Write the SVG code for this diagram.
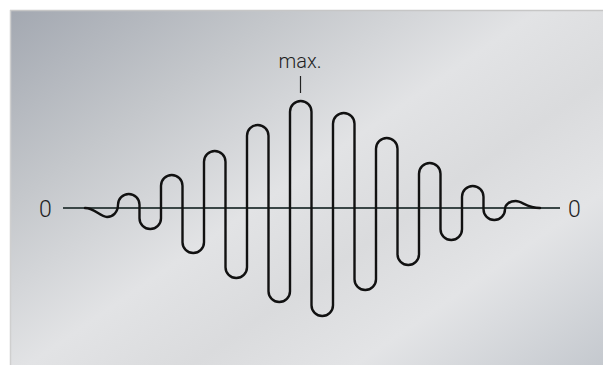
<svg xmlns="http://www.w3.org/2000/svg" width="603" height="365" viewBox="0 0 603 365">
  <defs>
    <linearGradient id="bg" gradientUnits="userSpaceOnUse" x1="10" y1="10" x2="420" y2="600">
      <stop offset="0" stop-color="#a3a8b1"/>
      <stop offset="0.22" stop-color="#c4c7cb"/>
      <stop offset="0.42" stop-color="#e2e3e5"/>
      <stop offset="0.55" stop-color="#dadbdd"/>
      <stop offset="0.68" stop-color="#e3e4e6"/>
      <stop offset="1" stop-color="#b2b8c0"/>
    </linearGradient>
    <style>
      .lbl { font-family: Roboto, "Liberation Sans", Arial, sans-serif; font-weight: 300; font-size: 19px; fill: #1e1e1e; }
      .zero { font-size: 23px; }
      .wave { fill: none; stroke: #111; stroke-width: 2.4; stroke-linejoin: round; stroke-linecap: round; }
      .axis { stroke: #3a4646; stroke-width: 2; }
      .tick { stroke: #222; stroke-width: 1.2; }
    </style>
  </defs>
  <rect x="0" y="0" width="603" height="365" fill="#ffffff"/>
  <g id="panel">
    <rect x="10" y="10" width="593" height="355" fill="url(#bg)"/>
    <line x1="10" y1="10.5" x2="603" y2="10.5" stroke="#c6c6c6" stroke-width="1.5"/>
    <line x1="10.5" y1="10" x2="10.5" y2="365" stroke="#cfcfcf" stroke-width="1.5"/>
  </g>
  <g id="axis">
    <line class="axis" x1="63" y1="208" x2="560" y2="208"/>
    <text class="lbl zero" x="45.5" y="216.5" text-anchor="middle">0</text>
    <text class="lbl zero" x="574.5" y="216.5" text-anchor="middle">0</text>
  </g>
  <g id="wave">
    <path class="wave" d="M 85 208 C 95 208 100 217 107 217 C 113 217 118 212 118 204.75 A 10.75 10.75 0 0 1 139.5 204.75 L 139.5 218.25 A 10.75 10.75 0 0 0 161 218.25 L 161 185.75 A 10.75 10.75 0 0 1 182.5 185.75 L 182.5 242.25 A 10.75 10.75 0 0 0 204 242.25 L 204 161.75 A 10.75 10.75 0 0 1 225.5 161.75 L 225.5 267.25 A 10.75 10.75 0 0 0 247 267.25 L 247 135.75 A 10.75 10.75 0 0 1 268.5 135.75 L 268.5 291.25 A 10.75 10.75 0 0 0 290 291.25 L 290 111.75 A 10.75 10.75 0 0 1 311.5 111.75 L 311.5 305.25 A 10.75 10.75 0 0 0 333 305.25 L 333 123.75 A 10.75 10.75 0 0 1 354.5 123.75 L 354.5 279.25 A 10.75 10.75 0 0 0 376 279.25 L 376 148.75 A 10.75 10.75 0 0 1 397.5 148.75 L 397.5 254.25 A 10.75 10.75 0 0 0 419 254.25 L 419 173.75 A 10.75 10.75 0 0 1 440.5 173.75 L 440.5 229.25 A 10.75 10.75 0 0 0 462 229.25 L 462 196.75 A 10.75 10.75 0 0 1 483.5 196.75 L 483.5 209.25 A 10.75 10.75 0 0 0 505 209.25 C 505 204 510 201 515.75 201 C 522 201 527 208 540 208"/>
  </g>
  <g id="max-label">
    <text class="lbl" x="300" y="67.5" text-anchor="middle" style="font-size:20px">max.</text>
    <line class="tick" x1="300.5" y1="76" x2="300.5" y2="93"/>
  </g>
</svg>
